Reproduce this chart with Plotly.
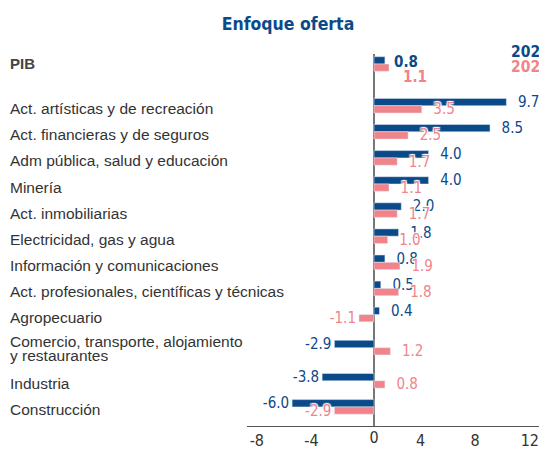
import plotly.graph_objects as go

sectors = [
    "Act. artísticas y de recreación",
    "Act. financieras y de seguros",
    "Adm pública, salud y educación",
    "Minería",
    "Act. inmobiliarias",
    "Electricidad, gas y agua",
    "Información y comunicaciones",
    "Act. profesionales, científicas y técnicas",
    "Agropecuario",
    "Comercio, transporte, alojamiento<br>y restaurantes",
    "Industria",
    "Construcción",
]
v2023 = [9.7, 8.5, 4.0, 4.0, 2.0, 1.8, 0.8, 0.5, 0.4, -2.9, -3.8, -6.0]
v2024 = [3.5, 2.5, 1.7, 1.1, 1.7, 1.0, 1.9, 1.8, -1.1, 1.2, 0.8, -2.9]
pib_label = ["PIB"]
pib2023 = [0.8]
pib2024 = [1.1]
series_names = ["2023", "2024"]
x_ticks = [-8, -4, 0, 4, 8, 12]

BLUE = "#0b4a89"
PINK = "#f0848a"
GREY = "#333333"
COND = "DejaVu Sans Condensed, DejaVu Sans, sans-serif"
REG = "Liberation Sans, Arial, sans-serif"
HALO = "1px 1px 1px #fff, -1px -1px 1px #fff, 1px -1px 1px #fff, -1px 1px 1px #fff"
NB = "\u00a0\u00a0"

# row layout: extra room around rows whose label wraps onto two lines
EXTRA = 0.27
nlines = [s.count("<br>") + 1 for s in sectors]
ypos = [0.0]
for i in range(1, len(sectors)):
    step = 1.0 + (EXTRA if (nlines[i] > 1 or nlines[i - 1] > 1) else 0.0)
    ypos.append(ypos[-1] + step)


def labels(vals):
    return [(NB + f"{v:.1f}") if v >= 0 else f"{v:.1f}" for v in vals]


fig = go.Figure()

for name, vals, col in [(series_names[0], v2023, BLUE), (series_names[1], v2024, PINK)]:
    fig.add_trace(go.Bar(
        name=name, y=ypos, x=vals, orientation="h", marker_color=col,
        text=labels(vals), textposition="outside", cliponaxis=False,
        constraintext="none", textangle=0,
        textfont=dict(family=COND, size=15, color=col, shadow=HALO),
        xaxis="x", yaxis="y", showlegend=False,
    ))

for name, vals, col in [(series_names[0], pib2023, BLUE), (series_names[1], pib2024, PINK)]:
    fig.add_trace(go.Bar(
        name=name, y=pib_label, x=vals, orientation="h", marker_color=col,
        xaxis="x2", yaxis="y2", showlegend=False,
    ))

fig.add_trace(go.Scatter(x=[], y=[], xaxis="x3", yaxis="y", showlegend=False,
                         hoverinfo="skip"))

# axis geometry (figure is drawn 8px inside the page)
L, T, B = 239, 46, 31
PXU = 13.65
X0 = 366
XR = [-(X0 - L) / PXU, (547 - X0) / PXU]
H = 449 - T - B
SPLIT_PX = 76
split = (449 - B - SPLIT_PX) / H
ROW = 26.1
FIRST = 97.7
yr = [(449 - B - FIRST) / ROW, -(FIRST - SPLIT_PX) / ROW]
PIB_C = 56
yr2 = [(SPLIT_PX - PIB_C) / ROW, -(PIB_C - T) / ROW]

annotations = []
for s, yp in zip(sectors, ypos):
    parts = s.split("<br>")
    shifts = [-3] if len(parts) == 1 else [6.0, -8.0]
    for part, ys in zip(parts, shifts):
        annotations.append(dict(
            text=part, xref="paper", x=0, xshift=-L, xanchor="left",
            yref="y", y=yp, yanchor="middle", yshift=ys, showarrow=False, align="left",
            font=dict(family=REG, size=15.5, color=GREY),
        ))
annotations.append(dict(
    text="<b>PIB</b>", xref="paper", x=0, xshift=-L, xanchor="left",
    yref="y2", y=pib_label[0], yanchor="middle", yshift=1, showarrow=False,
    font=dict(family=REG, size=15, color="#444444"),
))
annotations.append(dict(
    text=f"<b>{pib2023[0]:.1f}</b>", xref="x2", x=pib2023[0], xshift=7, xanchor="left",
    yref="y2", y=pib_label[0], yanchor="middle", yshift=2.5, showarrow=False,
    font=dict(family=COND, size=15, color=BLUE),
))
annotations.append(dict(
    text=f"<b>{pib2024[0]:.1f}</b>", xref="x2", x=pib2024[0], xshift=12, xanchor="left",
    yref="y2", y=pib_label[0], yanchor="middle", yshift=-13, showarrow=False,
    font=dict(family=COND, size=15, color=PINK),
))
annotations.append(dict(
    text="<b>" + series_names[0] + "</b>", xref="paper", x=(501 - L) / (547 - L), xanchor="left",
    yref="paper", y=(449 - B - 44) / H, yanchor="middle", showarrow=False,
    font=dict(family=COND, size=15.5, color=BLUE),
))
annotations.append(dict(
    text="<b>" + series_names[1] + "</b>", xref="paper", x=(501 - L) / (547 - L), xanchor="left",
    yref="paper", y=(449 - B - 59) / H, yanchor="middle", showarrow=False,
    font=dict(family=COND, size=15.5, color=PINK),
))

nonzero = [t for t in x_ticks if t != 0]
fig.update_layout(
    width=547, height=449,
    margin=dict(l=L, r=0, t=T, b=B),
    paper_bgcolor="white", plot_bgcolor="white",
    barmode="group", bargap=0.44, bargroupgap=0,
    title=dict(text="<b>Enfoque oferta</b>", x=280 / 547, xanchor="center",
               xref="container", y=1 - 15.6 / 449, yanchor="middle", yref="container",
               font=dict(family=COND, size=17.5, color=BLUE)),
    xaxis=dict(range=XR, tickvals=nonzero, ticktext=[str(t) for t in nonzero],
               ticklabelshift=-8,
               showgrid=False, zeroline=True,
               zerolinecolor="#777777", zerolinewidth=1.5,
               showline=True, linecolor="#555555", linewidth=1.2, ticks="",
               tickfont=dict(family=COND, size=16, color=GREY), anchor="y"),
    xaxis3=dict(range=XR, matches="x", overlaying="x", anchor="y", side="bottom",
                tickvals=[0], ticktext=["0"], showgrid=False, zeroline=False,
                showline=False, ticks="",
                tickfont=dict(family=COND, size=16, color=GREY)),
    yaxis=dict(domain=[0, split], range=yr, showticklabels=False,
               showgrid=False, zeroline=False, ticks="", anchor="x"),
    xaxis2=dict(range=XR, matches="x", showticklabels=False, showgrid=False,
                zeroline=True, zerolinecolor="#777777", zerolinewidth=1.5,
                showline=False, ticks="", anchor="y2"),
    yaxis2=dict(domain=[split, 1], type="category", range=yr2,
                showticklabels=False, showgrid=False, zeroline=False, ticks="",
                anchor="x2"),
    annotations=annotations,
)

fig.write_html("out.html")
